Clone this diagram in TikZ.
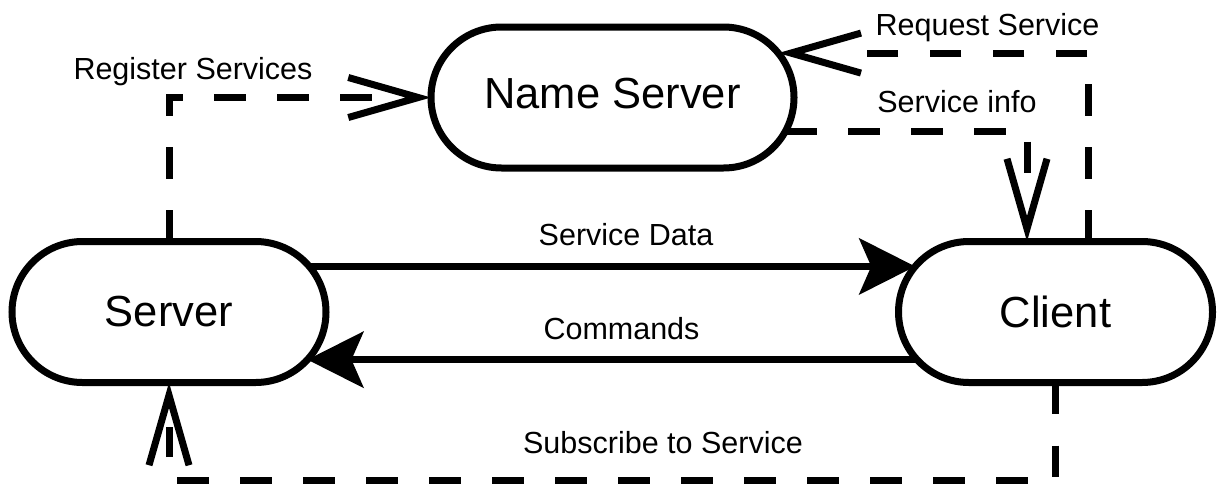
\documentclass[tikz,border=0pt]{standalone}
\usepackage{fontspec}
\setmainfont{Liberation Sans}
\usetikzlibrary{arrows.meta,shapes.misc}
\begin{document}
\begin{tikzpicture}[x=1pt,y=-1pt,
  box/.style={draw, line width=7pt, rounded rectangle, minimum width=314pt, minimum height=141pt, inner sep=0pt, outer sep=0pt, font=\fontsize{43.5}{52}\selectfont},
  lbl/.style={font=\fontsize{30.5}{36}\selectfont, inner sep=0pt, anchor=base},
  flow/.style={line width=7pt, -{Stealth[length=56pt, width=56pt, inset=12pt]}},
  msgline/.style={line width=7pt, dash pattern=on 31.5pt off 31.5pt, shorten >=44pt},
  msgtip/.style={line width=7pt, dash pattern=on 0pt off 3000pt, -{Straight Barb[length=70pt, width=40pt, sharp]}},
]
\useasboundingbox (0,0) rectangle (1217,485);
\node[box] (srv) at (169,312) {Server};
\node[box] (cli) at (1055.5,312) {Client};
\node[box, minimum width=363pt, text depth=8pt] (ns) at (612.5,97.5) {Name Server};

\draw[flow] (srv.18) -- (cli.162);
\draw[flow] (cli.199) -- (srv.341);

\draw[msgline] (srv.north) |- (ns.west);
\draw[msgtip] (srv.north) |- (ns.west);
\draw[msgline, shorten >=60pt] ([xshift=32.5pt]cli.north) |- (ns.15);
\draw[msgtip] ([xshift=32.5pt]cli.north) |- (ns.15);
\draw[msgline] (ns.349) -| ([xshift=-28.5pt]cli.north);
\draw[msgtip] (ns.349) -| ([xshift=-28.5pt]cli.north);
\draw[msgline] (cli.south) -- ++(0,98) -| (srv.south);
\draw[msgtip] (cli.south) -- ++(0,98) -| (srv.south);

\node[lbl] (lreg) at (193,79) {Register Services};
\node[lbl] (lreq) at (987.5,35) {Request Service};
\node[lbl] (linfo) at (957,112) {Service info};
\node[lbl] (ldata) at (626,245) {Service Data};
\node[lbl] (lcmd) at (621.5,339) {Commands};
\node[lbl] (lsub) at (663,453) {Subscribe to Service};
\end{tikzpicture}
\end{document}
